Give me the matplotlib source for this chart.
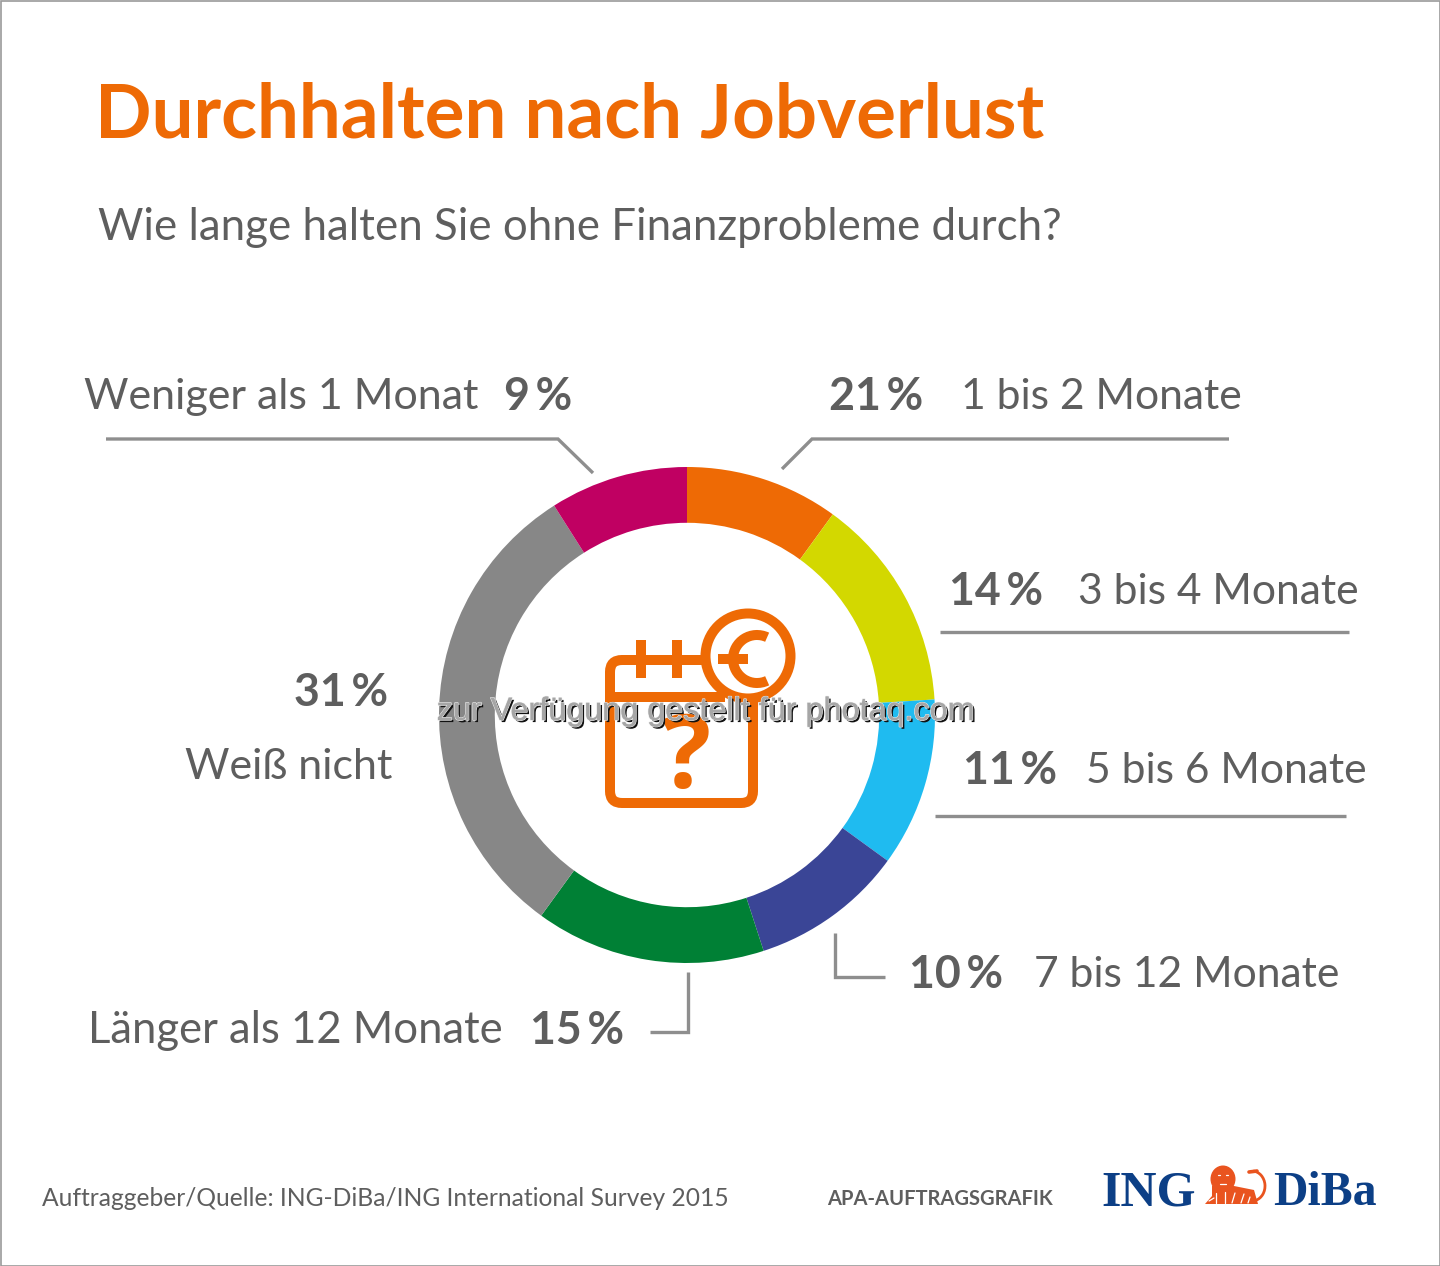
import matplotlib
matplotlib.use("Agg")
import matplotlib.pyplot as plt
import matplotlib.patheffects as pe
from matplotlib.patches import Arc, Circle, Ellipse, FancyBboxPatch, Polygon, Rectangle

WIDTH, HEIGHT = 1440, 1266

# slices in drawing order, clockwise from 12 o'clock
categories = ["1 bis 2 Monate", "3 bis 4 Monate", "5 bis 6 Monate", "7 bis 12 Monate",
              "Länger als 12 Monate", "Weiß nicht", "Weniger als 1 Monat"]
# printed labels (the 21 % slice is drawn much smaller than its label says)
printed_pct = [21, 14, 11, 10, 15, 31, 9]
drawn_share = [10, 14, 11, 10, 15, 31, 9]
slice_colors = ["#ee6a05", "#d3d800", "#1fbbf0", "#3a4596", "#008035", "#878787", "#c00062"]

ORANGE = "#ee6a05"
TEXT = "#5e5e5e"
LINE = "#8e8e8e"
BLUE = "#0c3f86"
LION = "#e9541f"
FONT = "Lato"

fig = plt.figure(figsize=(WIDTH / 100, HEIGHT / 100), dpi=100, facecolor="white")


def px_axes(left, top, right, bottom, zorder):
    return fig.add_axes([left / WIDTH, 1 - bottom / HEIGHT, (right - left) / WIDTH, (bottom - top) / HEIGHT],
                        zorder=zorder)


# donut
pie_ax = px_axes(439, 467, 935, 963, 1)
pie_ax.pie(drawn_share, colors=slice_colors, startangle=90, counterclock=False, radius=1,
           wedgeprops={"width": 0.225, "linewidth": 0})
pie_ax.set_xlim(-1, 1)
pie_ax.set_ylim(-1, 1)
pie_ax.axis("off")

# everything else sits on a pixel overlay
ax = px_axes(0, 0, WIDTH, HEIGHT, 2)
ax.set_xlim(0, WIDTH)
ax.set_ylim(HEIGHT, 0)
ax.axis("off")
ax.patch.set_alpha(0)

ax.add_patch(Rectangle((0.5, 0.5), WIDTH - 1, HEIGHT - 1, fill=False, ec="#9a9a9a", lw=1.2))

ax.text(95, 138, "Durchhalten nach Jobverlust", color=ORANGE, fontsize=53.6, fontweight="bold",
        family=FONT, va="baseline")
ax.text(98, 240, "Wie lange halten Sie ohne Finanzprobleme durch?", color=TEXT, fontsize=31.6,
        family=FONT, va="baseline")


def pct(value):
    return f"{value}\u2009%"


def label(x, y, txt, size=30.7):
    ax.text(x, y, txt, color=TEXT, fontsize=size, family=FONT, va="baseline")


def bold_label(x, y, txt):
    ax.text(x, y, txt, color=TEXT, fontsize=32.2, family=FONT, va="baseline", fontweight="bold")


label(84, 409, categories[6], 31)
bold_label(504, 410, pct(printed_pct[6]))
bold_label(829, 410, pct(printed_pct[0]))
label(961, 409, categories[0])
bold_label(949, 605, pct(printed_pct[1]))
label(1078, 604, categories[1])
bold_label(963, 784, pct(printed_pct[2]))
label(1086, 783, categories[2])
bold_label(909, 988, pct(printed_pct[3]))
label(1034, 987, categories[3])
label(88, 1043, categories[4], 31.4)
bold_label(530, 1044, pct(printed_pct[4]))
bold_label(294, 706, pct(printed_pct[5]))
label(185, 779, categories[5], 31)

# leader lines
leaders = [
    ([106, 558, 593], [439, 439, 473]),
    ([1229, 812, 782], [439, 439, 469]),
    ([940, 1349], [632, 632]),
    ([935, 1346], [816, 816]),
    ([835, 835, 885], [933, 977, 977]),
    ([688, 688, 650], [972, 1032, 1032]),
]
for xs, ys in leaders:
    ax.plot(xs, ys, color=LINE, lw=2.4, solid_joinstyle="miter", solid_capstyle="butt")

# calendar icon
ICON_LW = 7.2
ax.add_patch(FancyBboxPatch((610, 660), 143, 143, boxstyle="round,pad=0,rounding_size=12",
                            fill=False, ec=ORANGE, lw=ICON_LW))
ax.plot([610, 725], [697, 697], color=ORANGE, lw=ICON_LW, solid_capstyle="butt")
ax.plot([641, 641], [640, 678], color=ORANGE, lw=ICON_LW, solid_capstyle="butt")
ax.plot([677, 677], [640, 678], color=ORANGE, lw=ICON_LW, solid_capstyle="butt")
ax.add_patch(Circle((748, 656), 42.5, fc="white", ec=ORANGE, lw=ICON_LW))
ax.add_patch(Arc((757, 659), 48, 48, theta1=65, theta2=295, ec=ORANGE, lw=7.2))
ax.plot([718, 748], [659, 659], color=ORANGE, lw=7.2, solid_capstyle="butt")
ax.text(686, 788, "?", color=ORANGE, fontsize=74, fontweight="bold", family="Open Sans",
        ha="center", va="baseline")

# footer
ax.text(42, 1206, "Auftraggeber/Quelle: ING-DiBa/ING International Survey 2015", color=TEXT, fontsize=17.7,
        family=FONT, va="baseline")
ax.text(827, 1205, "APA-AUFTRAGSGRAFIK", color=TEXT, fontsize=14.5, fontweight="bold", family=FONT, va="baseline")

# logo
ax.text(1101, 1205, "ING", color=BLUE, fontsize=36, fontweight="bold", family="Liberation Serif", va="baseline")
ax.text(1273, 1205, "DiBa", color=BLUE, fontsize=34.4, fontweight="bold", family="Liberation Serif", va="baseline")

# rough lion between the two words
ax.add_patch(Ellipse((1223, 1179), 25, 27, fc=LION, ec="none"))
ax.add_patch(Polygon([(1212, 1186), (1234, 1186), (1254, 1190), (1258, 1204), (1205, 1204), (1212, 1196)],
                     fc=LION, ec="none"))
ax.add_patch(Arc((1252, 1186), 26, 30, theta1=-85, theta2=75, ec=LION, lw=2))
ax.plot([1249, 1257], [1172, 1171], color=LION, lw=2.6, solid_capstyle="round")
for x1, y1, x2, y2 in [(1218, 1175, 1220, 1175), (1226, 1175, 1228, 1175), (1220, 1184, 1226, 1184),
                       (1216, 1193, 1216, 1203), (1225, 1192, 1225, 1203), (1235, 1193, 1232, 1203),
                       (1244, 1194, 1241, 1203), (1250, 1197, 1248, 1203), (1209, 1201, 1214, 1198)]:
    ax.plot([x1, x2], [y1, y2], color="white", lw=0.9, solid_capstyle="round")

# watermark over the whole chart
ax.text(706, 712, "zur Verfügung gestellt für photaq.com", color="#a6a6a6", fontsize=23.3,
        family="Liberation Sans", ha="center", va="center", zorder=10,
        path_effects=[
            pe.withSimplePatchShadow(offset=(1.5, -1.5), shadow_rgbFace="#111111", alpha=1),
            pe.withStroke(linewidth=1.0, foreground="#e8e8e8"),
            pe.Normal(),
        ])

fig.savefig("out.png", dpi=100)
